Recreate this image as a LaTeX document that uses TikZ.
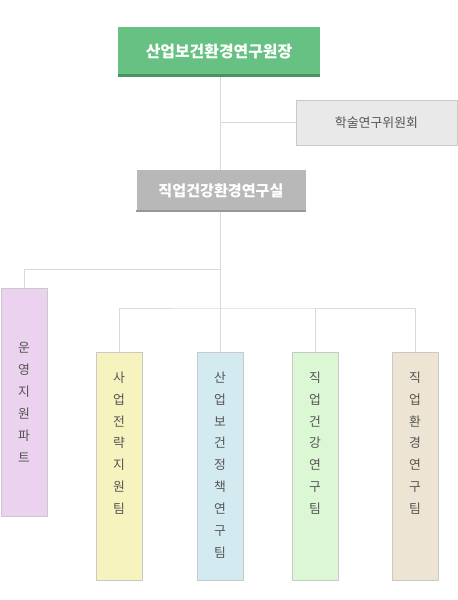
\documentclass[tikz,border=0pt]{standalone}
\usepackage{fontspec}
\setmainfont{Noto Sans CJK KR}
\usetikzlibrary{positioning}
\definecolor{headgreen}{HTML}{67C182}
\definecolor{headgreendark}{HTML}{4A9260}
\definecolor{labgray}{HTML}{B8B8B8}
\definecolor{labgraydark}{HTML}{979797}
\definecolor{boardgray}{HTML}{E9E9E9}
\definecolor{boxline}{HTML}{C9C9C9}
\definecolor{linkgray}{HTML}{D9D9D9}
\definecolor{txtgray}{HTML}{555555}
\definecolor{teampink}{HTML}{EBD2EE}
\definecolor{teamyellow}{HTML}{F7F3BF}
\definecolor{teamblue}{HTML}{D3EBF0}
\definecolor{teamgreen}{HTML}{DCF7D3}
\definecolor{teambeige}{HTML}{EDE4D3}
\begin{document}
\begin{tikzpicture}[x=1pt,y=-1pt]
\tikzstyle{every node}+=[inner sep=0pt]
\tikzstyle{link}=[draw=linkgray, line width=1pt]
\tikzstyle{team}=[draw=boxline, line width=1pt, minimum width=46pt, minimum height=228pt]
\tikzstyle{teamtext}=[text=txtgray, align=center, font=\fontsize{12.8}{21.9}\selectfont]
\useasboundingbox (0,0) rectangle (458,600);
% top levels
\node [fill=headgreen, minimum width=202pt, minimum height=50pt, text=white, font=\fontsize{15.9}{18}\selectfont\bfseries] (head) at (219,52) {산업보건환경연구원장};
\fill [headgreendark] (head.south west) rectangle ([yshift=3pt]head.south east);
\node [fill=boardgray, draw=boxline, line width=1pt, minimum width=161pt, minimum height=45pt, text=txtgray, font=\fontsize{12.9}{15}\selectfont] (board) at (376.5,122.5) {학술연구위원회};
\node [fill=labgray, minimum width=169pt, minimum height=42pt, text=white, font=\fontsize{15.1}{17}\selectfont\bfseries] (lab) at (221,191) {직업건강환경연구실};
\fill [labgraydark] (lab.south west) rectangle ([yshift=2.5pt]lab.south east);
% teams
\node [team, fill=teampink] (ops) at (24,402.5) {};
\node [team, fill=teamyellow, anchor=north] (bizteam) at (119,352) {};
\node [team, fill=teamblue, anchor=north] (policyteam) at (220,352) {};
\node [team, fill=teamgreen, anchor=north] (healthteam) at (315,352) {};
\node [team, fill=teambeige, anchor=north] (envteam) at (415,352) {};
\node [teamtext] (opstext) at (ops.center) {운\\영\\지\\원\\파\\트};
\node [teamtext, anchor=north, below=19.5pt of bizteam.north] (biztext) {사\\업\\전\\략\\지\\원\\팀};
\node [teamtext, anchor=north, below=19.5pt of policyteam.north] (policytext) {산\\업\\보\\건\\정\\책\\연\\구\\팀};
\node [teamtext, anchor=north, below=19.5pt of healthteam.north] (healthtext) {직\\업\\건\\강\\연\\구\\팀};
\node [teamtext, anchor=north, below=19.5pt of envteam.north] (envtext) {직\\업\\환\\경\\연\\구\\팀};
% connectors
\coordinate (trunktop) at (220,77);
\coordinate (opsjoint) at (220,269);
\coordinate (teambus) at (220,308);
\draw [link] (trunktop) -- (trunktop |- lab.north);
\draw [link] (board.west) -- (board.west -| trunktop);
\draw [link] (trunktop |- lab.south) -- (policyteam.north);
\draw [link] (opsjoint) -| (ops.north);
\draw [link] (bizteam.north) |- (teambus) -| (envteam.north);
\draw [link] (healthteam.north) -- (healthteam.north |- teambus);
\end{tikzpicture}
\end{document}
